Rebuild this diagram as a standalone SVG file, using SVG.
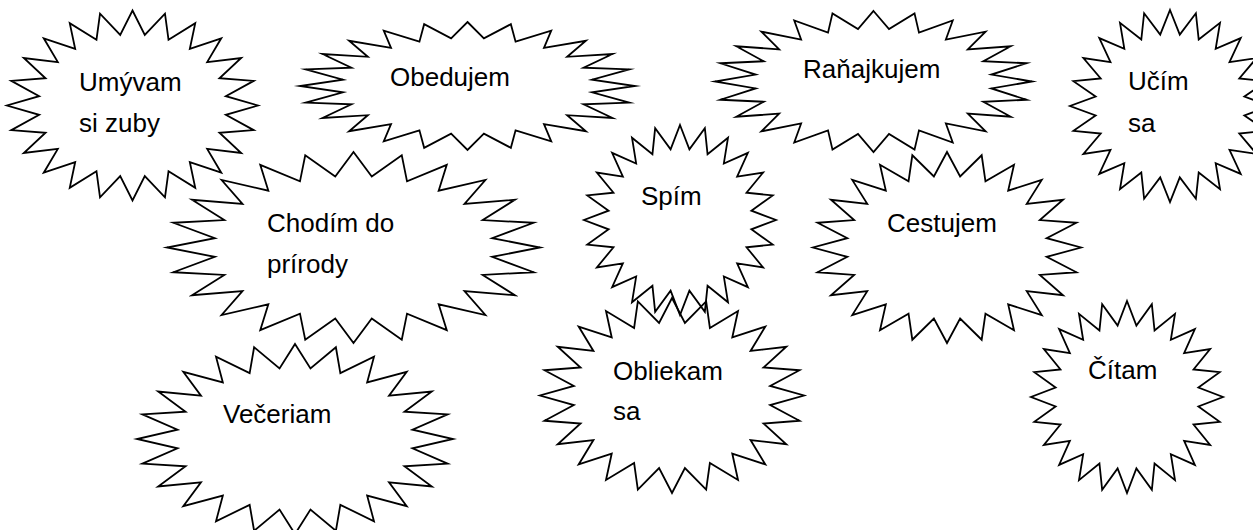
<svg xmlns="http://www.w3.org/2000/svg" xmlns:xlink="http://www.w3.org/1999/xlink" width="1253" height="530" viewBox="0 0 1253 530">
<style>
.st{fill:none;stroke:#000;stroke-width:1.8;stroke-linejoin:miter;stroke-miterlimit:14;vector-effect:non-scaling-stroke}
.t{font-family:"Liberation Sans",Arial,sans-serif;font-size:26px;fill:#000}
</style>
<defs>
<polygon id="star" class="st" points="0,-100 9.79,-74.36 25.88,-96.59 28.70,-69.29 50,-86.60 45.66,-59.51 70.71,-70.71 59.51,-45.66 86.60,-50 69.29,-28.70 96.59,-25.88 74.36,-9.79 100,0 74.36,9.79 96.59,25.88 69.29,28.70 86.60,50 59.51,45.66 70.71,70.71 45.66,59.51 50,86.60 28.70,69.29 25.88,96.59 9.79,74.36 0,100 -9.79,74.36 -25.88,96.59 -28.70,69.29 -50,86.60 -45.66,59.51 -70.71,70.71 -59.51,45.66 -86.60,50 -69.29,28.70 -96.59,25.88 -74.36,9.79 -100,0 -74.36,-9.79 -96.59,-25.88 -69.29,-28.70 -86.60,-50 -59.51,-45.66 -70.71,-70.71 -45.66,-59.51 -50,-86.60 -28.70,-69.29 -25.88,-96.59 -9.79,-74.36"/>
</defs>
<rect width="1253" height="530" fill="#fff"/>
<g id="umyvam">
<use href="#star" transform="translate(132.5,105.5) scale(1.255,0.95)"/>
<text class="t" x="79" y="91">Umývam</text>
<text class="t" x="79" y="132">si zuby</text>
</g>
<g id="obedujem">
<use href="#star" transform="translate(467.5,86) scale(1.675,0.64)"/>
<text class="t" x="390" y="86">Obedujem</text>
</g>
<g id="ranajkujem">
<use href="#star" transform="translate(873.5,81.5) scale(1.585,0.705)"/>
<text class="t" x="803" y="78">Raňajkujem</text>
</g>
<g id="ucim">
<use href="#star" transform="translate(1170,106) scale(1.0,0.96)"/>
<text class="t" x="1128" y="90">Učím</text>
<text class="t" x="1128" y="132">sa</text>
</g>
<g id="chodim">
<use href="#star" transform="translate(353.5,247.5) scale(1.865,0.955)"/>
<text class="t" x="267" y="232">Chodím do</text>
<text class="t" x="267" y="273">prírody</text>
</g>
<g id="spim">
<use href="#star" transform="translate(680,220) scale(0.96,0.95)"/>
<text class="t" x="641" y="205">Spím</text>
</g>
<g id="cestujem">
<use href="#star" transform="translate(947,247.5) scale(1.34,0.955)"/>
<text class="t" x="887" y="232">Cestujem</text>
</g>
<g id="citam">
<use href="#star" transform="translate(1127,397) scale(0.96,0.96)"/>
<text class="t" x="1088" y="379">Čítam</text>
</g>
<g id="veceriam">
<use href="#star" transform="translate(295,439) scale(1.58,0.95)"/>
<text class="t" x="223" y="423">Večeriam</text>
</g>
<g id="obliekam">
<use href="#star" transform="translate(672,395.5) scale(1.32,0.975)"/>
<text class="t" x="613" y="380">Obliekam</text>
<text class="t" x="613" y="420">sa</text>
</g>
<g id="connectors"/>
</svg>
